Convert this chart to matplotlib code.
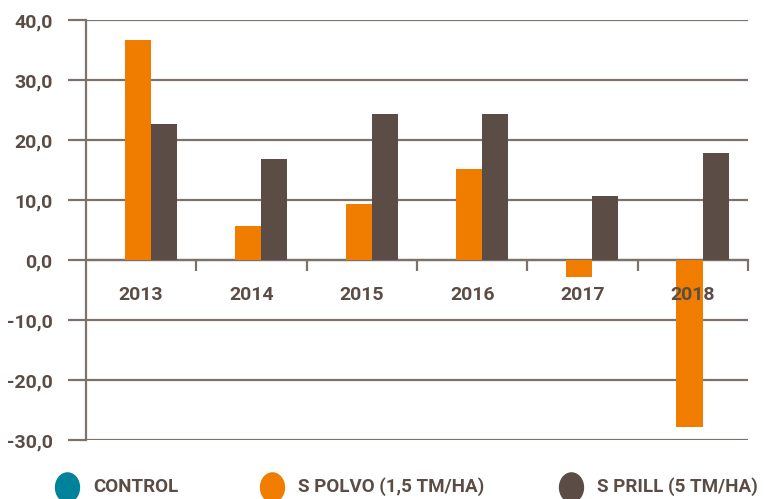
import matplotlib.pyplot as plt
from matplotlib.path import Path
from matplotlib.transforms import Affine2D
import numpy as np

years = ['2013', '2014', '2015', '2016', '2017', '2018']
control = [0, 0, 0, 0, 0, 0]
s_polvo = [36.7, 5.7, 9.4, 15.1, -2.8, -27.9]
s_prill = [22.7, 16.8, 24.3, 24.3, 10.7, 17.9]
series_names = ['CONTROL', 'S POLVO (1,5 TM/HA)', 'S PRILL (5 TM/HA)']
colours_list = ['#00829b', '#f07d00', '#5b4d45']

txt_col = '#5b4d45'
line_col = '#7d726b'
font = dict(family=['Roboto', 'DejaVu Sans'], weight='bold', color=txt_col)

fig = plt.figure(figsize=(7.64, 4.99), dpi=100)
ax = fig.add_axes([0.1126, 0.1182, 0.979 - 0.1126, 0.96 - 0.1182])

x = np.arange(len(years))
w = 0.236
for k, vals in enumerate([control, s_polvo, s_prill]):
    ax.bar(x + (k - 1) * w - 0.03, vals, width=w, color=colours_list[k], zorder=3)

ax.set_xlim(-0.5, 5.5)
ax.set_ylim(-30, 40)
ax.set_yticks(np.arange(-30, 41, 10))
ax.set_yticklabels([('%.1f' % v).replace('.', ',') for v in np.arange(-30, 41, 10)], **font, fontsize=14)
ax.yaxis.grid(True, color=line_col, lw=1.6, zorder=1)
ax.tick_params(axis='y', length=13, width=1.6, color=line_col, pad=11)

ax.spines['top'].set_visible(False)
ax.spines['right'].set_visible(False)
ax.spines['bottom'].set_position(('data', 0))
ax.spines['bottom'].set_color(line_col)
ax.spines['bottom'].set_linewidth(1.6)
ax.spines['left'].set_color(line_col)
ax.spines['left'].set_linewidth(1.6)

ax.set_xticks(x + 0.5)
ax.set_xticklabels([])
ax.tick_params(axis='x', which='major', length=8, width=1.6, color=line_col)

# year labels drawn above the bars, like in the original
for i, yr in enumerate(years):
    ax.text(i, -5.85, yr, ha='center', va='center', fontsize=14, zorder=5, **font)

# legend at the bottom, slightly oval dots
oval = Affine2D().scale(0.82, 1.0).transform_path(Path.unit_circle())
leg_x = [0.088, 0.356, 0.748]
for k in range(3):
    fig.lines.append(plt.Line2D([leg_x[k]], [0.025], marker=oval, markersize=21,
                                color=colours_list[k], transform=fig.transFigure))
    fig.text(leg_x[k] + 0.034, 0.025, series_names[k], va='center', ha='left', fontsize=13.5, **font)

plt.savefig('out.png', dpi=100)
